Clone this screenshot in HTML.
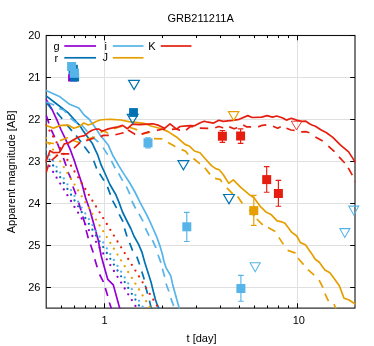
<!DOCTYPE html>
<html><head><meta charset="utf-8"><title>GRB211211A</title>
<style>
html,body{margin:0;padding:0;background:#fff;}
body{width:374px;height:346px;overflow:hidden;position:relative;font-family:"Liberation Sans",sans-serif;}
svg{will-change:transform;}
svg text{font-family:"Liberation Sans",sans-serif;}
</style></head><body>
<svg width="374" height="346" viewBox="0 0 374 346" style="position:absolute;left:0;top:0">
<defs><clipPath id="c"><rect x="45.7" y="35.0" width="310.0" height="273.6"/></clipPath></defs>
<rect width="374" height="346" fill="#fff"/>
<path d="M46.2 77.5 H355.0 M46.2 119.5 H355.0 M46.2 161.5 H355.0 M46.2 203.5 H355.0 M46.2 245.5 H355.0 M46.2 287.5 H355.0 M104.5 35.5 V308.1 M297.5 35.5 V308.1" stroke="#e0e0e0" stroke-width="1" fill="none"/>
<rect x="46.2" y="35.5" width="308.8" height="272.6" fill="none" stroke="#111" stroke-width="1.1"/>
<path d="M46.2 35.5 h4.8 M355.0 35.5 h-4.8 M46.2 77.5 h4.8 M355.0 77.5 h-4.8 M46.2 119.5 h4.8 M355.0 119.5 h-4.8 M46.2 161.5 h4.8 M355.0 161.5 h-4.8 M46.2 203.5 h4.8 M355.0 203.5 h-4.8 M46.2 245.5 h4.8 M355.0 245.5 h-4.8 M46.2 287.5 h4.8 M355.0 287.5 h-4.8 M104.5 308.1 v-4.8 M104.5 35.5 v4.8 M297.5 308.1 v-4.8 M297.5 35.5 v4.8 M61.5 308.1 v-2.6 M61.5 35.5 v2.6 M74.5 308.1 v-2.6 M74.5 35.5 v2.6 M85.5 308.1 v-2.6 M85.5 35.5 v2.6 M95.5 308.1 v-2.6 M95.5 35.5 v2.6 M162.5 308.1 v-2.6 M162.5 35.5 v2.6 M196.5 308.1 v-2.6 M196.5 35.5 v2.6 M220.5 308.1 v-2.6 M220.5 35.5 v2.6 M239.5 308.1 v-2.6 M239.5 35.5 v2.6 M254.5 308.1 v-2.6 M254.5 35.5 v2.6 M267.5 308.1 v-2.6 M267.5 35.5 v2.6 M278.5 308.1 v-2.6 M278.5 35.5 v2.6 M288.5 308.1 v-2.6 M288.5 35.5 v2.6" stroke="#000" stroke-width="1" fill="none"/>
<g clip-path="url(#c)" fill="none" stroke-linejoin="round">
<path d="M45.5 98.4 L52.0 109.5 L56.8 119.7 L60.9 129.5 L65.5 139.2 L70.5 150.2 L74.0 159.8 L78.1 172.2 L82.2 184.7 L85.6 198.0 L90.1 210.8 L94.1 225.3 L98.1 239.7 L101.2 256.0 L107.7 279.3 L113.3 284.9 L119.9 309.0" stroke="#9400D3" stroke-width="1.7"/>
<path d="M46.2 115.4 L48.8 122.9 L49.0 123.3 M51.2 129.6 L54.6 137.2 L54.6 137.3 M57.4 143.4 L60.6 151.2 M63.4 158.0 L66.0 165.4 L66.2 165.9 M68.0 172.0 L71.3 179.7 M72.9 186.5 L75.9 194.4 M78.6 202.6 L81.1 210.6 M82.8 216.5 L85.2 224.5 L85.2 224.5 M86.1 230.1 L88.3 238.2 M90.5 244.5 L93.2 252.4 M94.8 259.2 L97.2 267.2 L97.2 267.2 M99.6 274.5 L102.9 280.9 L103.3 282.0 M105.3 288.1 L107.7 296.1 L107.7 296.1 M109.3 302.5 L111.6 309.0" stroke="#9400D3" stroke-width="1.7"/>
<g fill="#9400D3" stroke="none"><circle cx="45.9" cy="160.2" r="1.15"/><circle cx="49.5" cy="166.1" r="1.15"/><circle cx="53.1" cy="171.9" r="1.15"/><circle cx="56.6" cy="177.7" r="1.15"/><circle cx="60.2" cy="183.6" r="1.15"/><circle cx="63.8" cy="189.4" r="1.15"/><circle cx="67.4" cy="195.2" r="1.15"/><circle cx="71.0" cy="201.0" r="1.15"/><circle cx="74.5" cy="206.9" r="1.15"/><circle cx="78.1" cy="212.7" r="1.15"/><circle cx="81.7" cy="218.5" r="1.15"/><circle cx="85.3" cy="224.4" r="1.15"/><circle cx="88.9" cy="230.2" r="1.15"/><circle cx="92.4" cy="236.0" r="1.15"/><circle cx="96.0" cy="241.8" r="1.15"/><circle cx="99.6" cy="247.7" r="1.15"/><circle cx="103.2" cy="253.5" r="1.15"/><circle cx="106.8" cy="259.3" r="1.15"/><circle cx="110.3" cy="265.1" r="1.15"/><circle cx="113.9" cy="271.0" r="1.15"/><circle cx="117.5" cy="276.8" r="1.15"/><circle cx="121.1" cy="282.6" r="1.15"/><circle cx="124.7" cy="288.5" r="1.15"/><circle cx="128.2" cy="294.3" r="1.15"/><circle cx="131.8" cy="300.1" r="1.15"/><circle cx="135.4" cy="305.9" r="1.15"/></g>
<path d="M45.5 95.3 L58.0 105.0 L68.0 112.6 L74.0 119.2 L78.7 124.3 L80.6 126.8 L83.6 131.6 L88.7 138.6 L92.4 143.6 L97.8 155.2 L101.2 165.2 L104.6 172.5 L109.9 184.5 L115.6 194.2 L119.0 202.4 L122.5 212.0 L126.7 220.5 L130.8 228.5 L133.9 236.0 L138.6 244.3 L142.1 252.7 L144.8 262.4 L148.3 273.5 L151.0 282.0 L153.4 291.7 L155.4 299.5 L156.8 303.5 L159.2 309.0" stroke="#0072B2" stroke-width="1.7"/>
<path d="M46.0 102.3 L51.2 108.5 L51.5 108.7 M56.8 112.5 L60.9 117.3 L62.2 118.9 M66.5 124.5 L71.3 130.1 L72.0 130.9 M76.1 135.4 L79.9 140.4 L81.1 142.1 M84.3 146.6 L89.4 153.3 M93.7 160.7 L96.5 168.2 L96.7 168.5 M99.6 173.6 L103.8 180.3 L104.0 180.7 M107.5 186.9 L110.3 194.4 L110.4 194.8 M112.6 200.6 L116.5 207.8 L116.6 208.0 M119.2 214.3 L122.9 221.4 L123.0 221.8 M124.5 228.4 L127.0 236.4 M129.6 242.9 L132.6 250.6 L132.7 250.7 M136.8 256.6 L139.6 264.5 L139.6 264.5 M141.8 271.4 L144.1 279.1 L144.2 279.5 M145.3 285.6 L147.4 293.3 L147.5 293.7 M149.4 300.6 L151.0 307.1 L151.4 308.7" stroke="#0072B2" stroke-width="1.7"/>
<g fill="#0072B2" stroke="none"><circle cx="45.9" cy="153.9" r="1.15"/><circle cx="49.5" cy="159.7" r="1.15"/><circle cx="53.1" cy="165.5" r="1.15"/><circle cx="56.6" cy="171.4" r="1.15"/><circle cx="60.2" cy="177.2" r="1.15"/><circle cx="63.8" cy="183.0" r="1.15"/><circle cx="67.4" cy="188.9" r="1.15"/><circle cx="71.0" cy="194.7" r="1.15"/><circle cx="74.5" cy="200.5" r="1.15"/><circle cx="78.1" cy="206.3" r="1.15"/><circle cx="81.7" cy="212.2" r="1.15"/><circle cx="85.3" cy="218.0" r="1.15"/><circle cx="88.9" cy="223.8" r="1.15"/><circle cx="92.4" cy="229.7" r="1.15"/><circle cx="96.0" cy="235.5" r="1.15"/><circle cx="99.6" cy="241.3" r="1.15"/><circle cx="103.2" cy="247.1" r="1.15"/><circle cx="106.8" cy="253.0" r="1.15"/><circle cx="110.3" cy="258.8" r="1.15"/><circle cx="113.9" cy="264.6" r="1.15"/><circle cx="117.5" cy="270.5" r="1.15"/><circle cx="121.1" cy="276.3" r="1.15"/><circle cx="124.7" cy="282.1" r="1.15"/><circle cx="128.2" cy="287.9" r="1.15"/><circle cx="131.8" cy="293.8" r="1.15"/><circle cx="135.4" cy="299.6" r="1.15"/><circle cx="139.0" cy="305.4" r="1.15"/></g>
<path d="M45.5 90.3 L60.0 96.8 L69.6 104.3 L78.8 108.0 L84.1 115.0 L89.0 119.0 L94.5 126.5 L96.1 128.9 L100.2 135.2 L104.4 140.3 L108.4 145.3 L113.0 155.8 L118.6 165.4 L124.3 174.6 L129.2 182.0 L135.2 192.5 L140.2 202.6 L146.3 214.2 L150.0 221.7 L152.8 228.0 L156.5 236.3 L160.1 246.4 L162.3 254.0 L164.0 261.5 L166.0 267.6 L170.8 275.9 L172.9 285.6 L176.4 298.1 L179.4 309.0" stroke="#56B4E9" stroke-width="1.7"/>
<path d="M46.4 102.0 L52.8 104.5 L54.1 105.3 M59.2 108.5 L64.0 110.3 L66.1 112.8 M70.5 118.1 L75.3 122.1 L77.2 123.0 M82.0 125.3 L87.3 131.5 L87.5 131.7 M92.1 136.6 L98.4 142.2 M103.1 147.6 L107.6 154.6 L107.6 154.7 M111.4 160.8 L114.9 167.8 L115.2 168.3 M118.6 173.3 L122.6 180.6 L122.6 180.7 M126.3 186.5 L129.9 194.1 M131.8 201.0 L135.6 208.5 M139.0 214.0 L143.1 221.4 M145.4 228.2 L148.8 235.2 L149.2 235.7 M152.5 240.2 L155.9 247.8 L155.9 247.9 M158.0 254.8 L160.8 262.4 L160.9 262.7 M162.4 268.8 L164.6 276.6 L164.7 276.9 M166.0 283.5 L168.8 291.2 L168.8 291.4 M170.8 298.1 L173.6 305.8 L173.7 306.0" stroke="#56B4E9" stroke-width="1.7"/>
<g fill="#56B4E9" stroke="none"><circle cx="45.9" cy="149.3" r="1.15"/><circle cx="49.5" cy="155.1" r="1.15"/><circle cx="53.1" cy="160.9" r="1.15"/><circle cx="56.6" cy="166.8" r="1.15"/><circle cx="60.2" cy="172.6" r="1.15"/><circle cx="63.8" cy="178.4" r="1.15"/><circle cx="67.4" cy="184.3" r="1.15"/><circle cx="71.0" cy="190.1" r="1.15"/><circle cx="74.5" cy="195.9" r="1.15"/><circle cx="78.1" cy="201.7" r="1.15"/><circle cx="81.7" cy="207.6" r="1.15"/><circle cx="85.3" cy="213.4" r="1.15"/><circle cx="88.9" cy="219.2" r="1.15"/><circle cx="92.4" cy="225.1" r="1.15"/><circle cx="96.0" cy="230.9" r="1.15"/><circle cx="99.6" cy="236.7" r="1.15"/><circle cx="103.2" cy="242.5" r="1.15"/><circle cx="106.8" cy="248.4" r="1.15"/><circle cx="110.3" cy="254.2" r="1.15"/><circle cx="113.9" cy="260.0" r="1.15"/><circle cx="117.5" cy="265.9" r="1.15"/><circle cx="121.1" cy="271.7" r="1.15"/><circle cx="124.7" cy="277.5" r="1.15"/><circle cx="128.2" cy="283.3" r="1.15"/><circle cx="131.8" cy="289.2" r="1.15"/><circle cx="135.4" cy="295.0" r="1.15"/><circle cx="139.0" cy="300.8" r="1.15"/><circle cx="142.6" cy="306.7" r="1.15"/></g>
<path d="M45.5 125.3 L53.4 128.1 L60.0 125.6 L64.0 125.2 L68.9 125.4 L73.7 128.3 L79.0 126.6 L83.8 123.0 L88.2 125.0 L92.1 123.7 L96.1 121.5 L100.2 120.0 L105.0 119.5 L111.4 119.3 L120.7 120.0 L128.8 121.7 L138.0 122.6 L144.0 123.3 L151.0 126.0 L160.6 128.5 L168.1 131.6 L177.5 137.8 L185.0 144.4 L189.7 146.3 L194.4 151.0 L200.0 152.8 L204.6 158.0 L211.4 165.6 L215.7 168.6 L219.2 169.7 L223.2 174.5 L228.8 183.4 L233.3 179.8 L240.8 187.3 L249.3 194.6 L254.0 197.8 L260.0 206.1 L266.4 212.3 L271.4 214.8 L277.1 220.9 L282.0 221.9 L285.0 223.3 L291.8 232.4 L296.8 236.0 L300.4 242.6 L305.4 244.7 L311.5 253.4 L315.2 259.3 L319.3 262.2 L324.9 270.0 L329.9 272.8 L334.5 278.9 L339.5 286.1 L344.0 298.2 L348.6 299.7 L355.6 304.3" stroke="#E69F00" stroke-width="1.7"/>
<path d="M45.5 142.4 L53.4 143.5 L53.8 143.3 M60.0 140.6 L67.5 137.8 L67.8 138.0 M72.1 140.3 L80.1 142.8 M86.8 139.4 L94.0 137.3 L94.7 136.8 M100.6 132.6 L103.4 131.0 L107.8 133.0 L108.1 132.8 M114.0 128.7 L122.0 126.2 M129.3 127.3 L136.6 129.6 L137.2 130.1 M142.0 134.0 L149.5 132.4 L149.9 133.0 M154.0 138.6 L162.0 138.9 L162.3 139.1 M168.1 142.5 L174.7 146.3 L175.4 146.6 M181.7 149.6 L185.7 151.2 L188.1 154.5 L188.1 154.5 M193.5 158.5 L199.1 163.2 L199.9 163.9 M204.8 167.8 L210.0 174.4 M215.1 178.3 L220.5 179.6 L221.8 182.1 M226.9 187.9 L232.2 193.3 L232.9 193.7 M237.6 196.5 L242.4 203.4 M249.3 209.8 L253.5 215.2 L254.5 216.4 M256.8 219.0 L262.2 224.3 L262.9 224.7 M268.0 227.5 L275.3 231.6 M278.8 237.4 L283.4 244.4 M287.6 250.4 L295.0 252.9 L295.3 253.4 M298.0 258.3 L303.4 264.4 L303.6 264.6 M307.9 269.6 L314.2 275.2 M319.1 280.2 L323.0 287.7 M324.9 293.6 L328.5 301.2 M334.0 304.0 L336.0 309.0" stroke="#E69F00" stroke-width="1.7"/>
<g fill="#E69F00" stroke="none"><circle cx="45.9" cy="138.0" r="1.15"/><circle cx="49.5" cy="143.8" r="1.15"/><circle cx="53.1" cy="149.6" r="1.15"/><circle cx="56.6" cy="155.5" r="1.15"/><circle cx="60.2" cy="161.3" r="1.15"/><circle cx="63.8" cy="167.1" r="1.15"/><circle cx="67.4" cy="173.0" r="1.15"/><circle cx="71.0" cy="178.8" r="1.15"/><circle cx="74.5" cy="184.6" r="1.15"/><circle cx="78.1" cy="190.4" r="1.15"/><circle cx="81.7" cy="196.3" r="1.15"/><circle cx="85.3" cy="202.1" r="1.15"/><circle cx="88.9" cy="207.9" r="1.15"/><circle cx="92.4" cy="213.8" r="1.15"/><circle cx="96.0" cy="219.6" r="1.15"/><circle cx="99.6" cy="225.4" r="1.15"/><circle cx="103.2" cy="231.2" r="1.15"/><circle cx="106.8" cy="237.1" r="1.15"/><circle cx="110.3" cy="242.9" r="1.15"/><circle cx="113.9" cy="248.7" r="1.15"/><circle cx="117.5" cy="254.6" r="1.15"/><circle cx="121.1" cy="260.4" r="1.15"/><circle cx="124.7" cy="266.2" r="1.15"/><circle cx="128.2" cy="272.0" r="1.15"/><circle cx="131.8" cy="277.9" r="1.15"/><circle cx="135.4" cy="283.7" r="1.15"/><circle cx="139.0" cy="289.5" r="1.15"/><circle cx="142.6" cy="295.4" r="1.15"/><circle cx="146.1" cy="301.2" r="1.15"/><circle cx="149.7" cy="307.0" r="1.15"/></g>
<path d="M45.5 163.0 L50.0 150.7 L53.4 152.7 L59.5 152.3 L61.6 148.8 L64.3 143.8 L68.5 143.0 L72.7 140.3 L76.8 137.9 L80.3 136.5 L84.5 135.6 L88.6 132.3 L92.1 130.2 L96.1 129.0 L99.0 129.1 L101.8 131.0 L103.8 130.5 L108.3 128.9 L114.0 127.7 L118.0 126.8 L122.7 125.4 L127.4 128.7 L132.4 124.2 L139.5 124.7 L147.5 124.1 L153.0 123.8 L158.8 125.4 L164.6 128.3 L170.0 123.8 L176.6 129.2 L180.0 126.5 L186.5 125.9 L190.5 125.6 L194.6 125.8 L200.3 122.8 L204.3 121.2 L208.0 122.2 L213.6 123.1 L218.9 120.3 L223.2 121.4 L232.8 120.3 L239.2 119.3 L247.8 115.6 L252.1 117.5 L261.7 117.1 L267.0 115.6 L272.4 117.1 L276.7 116.0 L282.2 117.7 L286.4 120.1 L291.3 118.3 L296.6 120.1 L301.4 121.3 L305.8 121.2 L309.5 123.7 L312.0 125.0 L315.4 126.2 L320.8 129.8 L326.5 132.8 L332.8 137.4 L340.3 144.8 L348.6 151.9 L355.6 162.6" stroke="#E51E10" stroke-width="1.7"/>
<path d="M46.2 172.5 L48.6 164.4 M51.5 160.3 L57.1 155.6 L58.1 155.1 M60.9 153.8 L69.3 153.8 L69.3 153.8 M74.0 148.1 L80.2 142.4 M86.2 140.6 L94.2 138.0 M100.6 136.6 L103.4 135.4 L108.7 135.4 L108.8 135.4 M115.4 134.8 L123.4 132.8 L123.5 132.7 M128.0 130.0 L135.0 134.3 L135.2 134.3 M141.5 134.1 L149.5 131.6 M156.9 130.4 L163.5 129.0 L165.2 129.1 M171.9 129.4 L176.0 128.8 L179.6 130.1 L180.0 130.1 M186.1 130.1 L190.3 126.5 L193.2 126.6 M199.8 128.1 L207.5 128.3 L208.2 128.3 M215.2 127.8 L218.8 126.5 L222.9 127.7 L223.2 127.7 M229.3 126.9 L234.1 128.8 L237.2 127.7 M243.2 124.9 L246.9 126.9 L251.1 126.9 M258.2 126.9 L262.2 125.3 L266.3 124.9 M273.0 126.3 L277.7 128.2 L280.7 126.8 M286.5 128.3 L290.9 130.0 L294.6 130.3 M301.2 131.8 L306.3 131.7 L309.4 132.8 M315.4 136.9 L322.7 141.1 M328.3 146.1 L334.5 151.7 M339.0 156.8 L344.3 162.5 L344.7 163.0 M348.2 167.9 L352.3 175.2 M355.2 181.2 L355.6 182.0" stroke="#E51E10" stroke-width="1.7"/>
<g fill="#E51E10" stroke="none"><circle cx="45.9" cy="124.9" r="1.15"/><circle cx="49.5" cy="130.7" r="1.15"/><circle cx="53.1" cy="136.5" r="1.15"/><circle cx="56.6" cy="142.4" r="1.15"/><circle cx="60.2" cy="148.2" r="1.15"/><circle cx="63.8" cy="154.0" r="1.15"/><circle cx="67.4" cy="159.9" r="1.15"/><circle cx="71.0" cy="165.7" r="1.15"/><circle cx="74.5" cy="171.5" r="1.15"/><circle cx="78.1" cy="177.3" r="1.15"/><circle cx="81.7" cy="183.2" r="1.15"/><circle cx="85.3" cy="189.0" r="1.15"/><circle cx="88.9" cy="194.8" r="1.15"/><circle cx="92.4" cy="200.7" r="1.15"/><circle cx="96.0" cy="206.5" r="1.15"/><circle cx="99.6" cy="212.3" r="1.15"/><circle cx="103.2" cy="218.1" r="1.15"/><circle cx="106.8" cy="224.0" r="1.15"/><circle cx="110.3" cy="229.8" r="1.15"/><circle cx="113.9" cy="235.6" r="1.15"/><circle cx="117.5" cy="241.5" r="1.15"/><circle cx="121.1" cy="247.3" r="1.15"/><circle cx="124.7" cy="253.1" r="1.15"/><circle cx="128.2" cy="258.9" r="1.15"/><circle cx="131.8" cy="264.8" r="1.15"/><circle cx="135.4" cy="270.6" r="1.15"/><circle cx="139.0" cy="276.4" r="1.15"/><circle cx="142.6" cy="282.3" r="1.15"/><circle cx="146.1" cy="288.1" r="1.15"/><circle cx="149.7" cy="293.9" r="1.15"/><circle cx="153.3" cy="299.7" r="1.15"/><circle cx="156.9" cy="305.6" r="1.15"/></g>
</g>
<rect x="68.1" y="74.1" width="9" height="7.4" fill="#9400D3"/>
<rect x="70.1" y="72.5" width="9.0" height="9.0" fill="#0072B2"/>
<rect x="68.5" y="65" width="9" height="9.1" fill="#56B4E9"/>
<rect x="68.8" y="64.8" width="9.0" height="9.0" fill="#0072B2"/>
<rect x="67.1" y="62.0" width="9.0" height="9.0" fill="#56B4E9"/>
<rect x="69.8" y="68.6" width="9.2" height="9.2" fill="#56B4E9"/>
<path d="M128.6 80.4 h10.8 L134.1 89.6 Z" fill="none" stroke="#0072B2" stroke-width="1.20" stroke-linejoin="miter"/>
<path d="M127.3 114.4 h10.8 L132.7 123.6 Z" fill="none" stroke="#0072B2" stroke-width="1.20" stroke-linejoin="miter"/>
<rect x="129.1" y="108.1" width="8.8" height="8.8" fill="#0072B2"/>
<path d="M148.0 137.8 V147.8 M145.2 137.8 h5.6 M145.2 147.8 h5.6" stroke="#56B4E9" stroke-width="1.15" fill="none"/><rect x="143.5" y="138.3" width="9.0" height="9.0" fill="#56B4E9"/>
<path d="M178.0 160.7 h10.8 L183.4 169.8 Z" fill="none" stroke="#0072B2" stroke-width="1.20" stroke-linejoin="miter"/>
<path d="M186.8 212.3 V241.5 M184.0 212.3 h5.6 M184.0 241.5 h5.6" stroke="#56B4E9" stroke-width="1.15" fill="none"/><rect x="182.3" y="222.3" width="9.0" height="9.0" fill="#56B4E9"/>
<path d="M223.6 194.5 h10.8 L229.0 203.7 Z" fill="none" stroke="#0072B2" stroke-width="1.20" stroke-linejoin="miter"/>
<path d="M240.9 275.3 V301.2 M238.1 275.3 h5.6 M238.1 301.2 h5.6" stroke="#56B4E9" stroke-width="1.15" fill="none"/><rect x="236.4" y="284.0" width="9.0" height="9.0" fill="#56B4E9"/>
<path d="M250.1 262.8 h10.1 L255.2 271.7 Z" fill="none" stroke="#56B4E9" stroke-width="1.05" stroke-linejoin="miter"/>
<path d="M339.8 228.6 h10.1 L344.8 237.5 Z" fill="none" stroke="#56B4E9" stroke-width="1.05" stroke-linejoin="miter"/>
<path d="M348.7 206.1 h10.1 L353.8 215.0 Z" fill="none" stroke="#56B4E9" stroke-width="1.05" stroke-linejoin="miter"/>
<path d="M228.5 111.7 h10.3 L233.7 120.5 Z" fill="none" stroke="#E69F00" stroke-width="1.20" stroke-linejoin="miter"/>
<path d="M253.8 195.4 V225.4 M251.0 195.4 h5.6 M251.0 225.4 h5.6" stroke="#E69F00" stroke-width="1.15" fill="none"/><rect x="249.3" y="206.1" width="9.0" height="9.0" fill="#E69F00"/>
<path d="M222.4 130.5 V142.4 M219.6 130.5 h5.6 M219.6 142.4 h5.6" stroke="#E51E10" stroke-width="1.15" fill="none"/><rect x="217.9" y="131.7" width="9.0" height="9.0" fill="#E51E10"/>
<path d="M240.6 128.8 V143.4 M237.8 128.8 h5.6 M237.8 143.4 h5.6" stroke="#E51E10" stroke-width="1.15" fill="none"/><rect x="236.1" y="131.5" width="9.0" height="9.0" fill="#E51E10"/>
<path d="M266.7 166.6 V192.2 M263.9 166.6 h5.6 M263.9 192.2 h5.6" stroke="#E51E10" stroke-width="1.15" fill="none"/><rect x="262.2" y="175.1" width="9.0" height="9.0" fill="#E51E10"/>
<path d="M278.4 180.3 V206.2 M275.6 180.3 h5.6 M275.6 206.2 h5.6" stroke="#E51E10" stroke-width="1.15" fill="none"/><rect x="273.9" y="189.0" width="9.0" height="9.0" fill="#E51E10"/>
<path d="M291.3 121.2 h10.6 L296.6 129.9 Z" fill="none" stroke="#E51E10" stroke-width="0.85" stroke-linejoin="miter"/>
<g font-family="Liberation Sans, sans-serif" font-size="11px" fill="#000">
<text x="59.6" y="49.6" text-anchor="end">g</text>
<path d="M64.3 46.0 H96.0" stroke="#9400D3" stroke-width="1.7"/>
<text x="58.2" y="61.9" text-anchor="end">r</text>
<path d="M64.3 57.8 H96.0" stroke="#0072B2" stroke-width="1.7"/>
<text x="107.0" y="49.6" text-anchor="end">i</text>
<path d="M112.8 46.0 H143.5" stroke="#56B4E9" stroke-width="1.7"/>
<text x="108.0" y="61.4" text-anchor="end">J</text>
<path d="M112.8 57.8 H143.5" stroke="#E69F00" stroke-width="1.7"/>
<text x="155.5" y="49.6" text-anchor="end">K</text>
<path d="M160.8 46.0 H191.4" stroke="#E51E10" stroke-width="1.7"/>
<text x="40.4" y="39.1" text-anchor="end">20</text>
<text x="40.4" y="81.1" text-anchor="end">21</text>
<text x="40.4" y="123.1" text-anchor="end">22</text>
<text x="40.4" y="165.1" text-anchor="end">23</text>
<text x="40.4" y="207.1" text-anchor="end">24</text>
<text x="40.4" y="249.1" text-anchor="end">25</text>
<text x="40.4" y="291.1" text-anchor="end">26</text>
<text x="104.6" y="324" text-anchor="middle">1</text>
<text x="298.8" y="324" text-anchor="middle">10</text>
<text x="201.5" y="341.5" text-anchor="middle">t [day]</text>
<text x="200.6" y="22" text-anchor="middle">GRB211211A</text>
<text transform="translate(14.5 171.8) rotate(-90)" text-anchor="middle">Apparent magnitude [AB]</text>
</g>
</svg>
</body></html>
